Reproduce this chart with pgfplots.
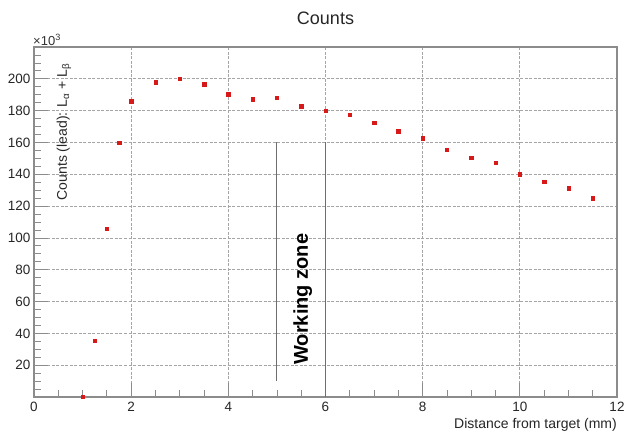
\documentclass[border=0pt]{standalone}
\usepackage{pgfplots}
\pgfplotsset{compat=1.18}
\usepackage{fontspec}
\setmainfont{Liberation Sans}
\definecolor{framegray}{RGB}{140,140,140}
\definecolor{gridgray}{RGB}{165,165,165}
\definecolor{ptred}{RGB}{215,25,25}
\definecolor{zonegray}{RGB}{110,110,110}
\begin{document}
\begin{tikzpicture}
\begin{axis}[
  name=ax,
  width=583pt, height=350pt, scale only axis,
  xmin=0, xmax=12, ymin=0, ymax=220,
  xtick={0,2,...,12}, ytick={20,40,...,200},
  minor xtick={0,0.5,...,12}, minor ytick={0,5,...,220},
  xtick pos=bottom, ytick pos=left,
  tick align=inside,
  major tick length=14pt, minor tick length=7pt,
  scaled y ticks=false,
  grid=major,
  major grid style={gridgray, dash pattern=on 3pt off 1.5pt, line width=0.7pt},
  axis line style={framegray, line width=1.1pt},
  tick style={framegray, line width=0.8pt},
  ticklabel style={font=\fontsize{13.5}{15}\selectfont, text=black!85},
  xticklabel style={yshift=-2pt},
  /pgf/number format/assume math mode=true,
  clip=false,
]
\addplot[only marks, mark=square*, mark size=1.7pt, color=ptred] coordinates {
(1,0.3) (1.25,35.3) (1.5,105.6) (1.75,159.8) (2,186) (2.5,197.9) (3,200)
(3.5,196.6) (4,190.3) (4.5,187.2) (5,188.2) (5.5,182.8) (6,179.8)
(6.5,177.5) (7,172.5) (7.5,167.1) (8,162.7) (8.5,155.6) (9,150.3)
(9.5,147.2) (10,140.1) (10.5,135.3) (11,131.3) (11.5,125)
};
\addplot[zonegray, line width=0.9pt] coordinates {(5,10) (5,160)};
\addplot[zonegray, line width=0.9pt] coordinates {(6,0) (6,160)};
\node[rotate=90, font=\bfseries\fontsize{20}{24}\selectfont, text=black] at (axis cs:5.53,61.5) {Working zone};
\node[anchor=north east, inner sep=0pt, yshift=-21pt, font=\fontsize{14}{16}\selectfont, text=black!85] at (rel axis cs:1,0) {Distance from target (mm)};
\node[font=\fontsize{18}{20}\selectfont, text=black!85] at ([yshift=29pt]rel axis cs:0.5,1) {Counts};
\node[anchor=south west, inner sep=0pt, xshift=-1pt, yshift=1.5pt, font=\fontsize{13}{15}\selectfont, text=black!80] at (rel axis cs:0,1) {×10\textsuperscript{3}};
\node[rotate=90, anchor=east, inner sep=0pt, font=\fontsize{14}{16}\selectfont, text=black!85] at (rel axis cs:0.0515,0.954) {Counts (lead): L\textsubscript{α} + L\textsubscript{β}};
\end{axis}
\pgfresetboundingbox
\path[use as bounding box] ([xshift=-34pt,yshift=-37pt]ax.south west) rectangle ([xshift=7pt,yshift=47pt]ax.north east);
\end{tikzpicture}
\end{document}
